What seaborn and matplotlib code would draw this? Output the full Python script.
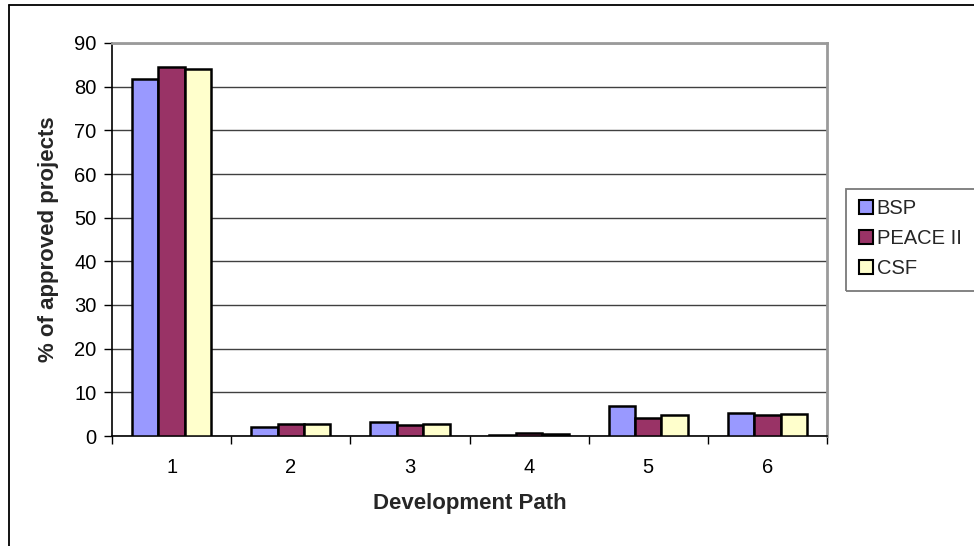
import matplotlib
matplotlib.use("Agg")
import matplotlib.pyplot as plt
from matplotlib.patches import Rectangle, Patch
from matplotlib.lines import Line2D
import seaborn as sns
import pandas as pd
import numpy as np

# Share of approved projects (%) by development path, per programme
paths = ["1", "2", "3", "4", "5", "6"]
bsp = [81.8, 2.0, 3.1, 0.3, 6.9, 5.3]
peace_ii = [84.6, 2.7, 2.5, 0.6, 4.2, 4.8]
csf = [84.1, 2.7, 2.7, 0.4, 4.7, 5.0]
programmes = ["BSP", "PEACE II", "CSF"]
colours = ["#9999FF", "#993366", "#FFFFCC"]
y_ticks = [0, 10, 20, 30, 40, 50, 60, 70, 80, 90]

df = pd.DataFrame({
    "path": paths * 3,
    "value": bsp + peace_ii + csf,
    "programme": [p for p in programmes for _ in paths],
})

sns.set_theme(style="white")
plt.rcParams["font.family"] = ["Liberation Sans", "DejaVu Sans"]

W, H = 974, 546
fig = plt.figure(figsize=(W / 100, H / 100), dpi=100)
fig.patch.set_facecolor("white")

ax = fig.add_axes([112 / W, 1 - 436 / H, (827 - 112) / W, (436 - 43) / H])

sns.barplot(
    data=df, x="path", y="value", hue="programme", hue_order=programmes,
    palette=colours, saturation=1, width=3 / 4.5, gap=0,
    edgecolor="black", linewidth=1.8, ax=ax, legend=False, zorder=3,
)

ax.set_xlim(-0.5, 5.5)
ax.set_ylim(0, 90)
ax.set_yticks(y_ticks)
ax.set_yticklabels([str(t) for t in y_ticks])
ax.yaxis.grid(True, color="#404040", linewidth=1.0, zorder=0)
ax.xaxis.grid(False)
ax.set_axisbelow(True)

# category labels centred, tick marks between categories
ax.set_xticks(range(len(paths)))
ax.set_xticklabels(paths)
ax.set_xticks(np.arange(-0.5, len(paths)), minor=True)
ax.tick_params(axis="x", which="major", length=0, pad=16, labelsize=14.5, colors="black")
ax.tick_params(axis="x", which="minor", bottom=True, length=6, width=1, color="black", direction="out")
ax.tick_params(axis="y", left=True, length=6, width=1, color="black", direction="out",
               pad=5, labelsize=14.5, labelcolor="black")

for side in ["left", "bottom"]:
    ax.spines[side].set_color("black")
    ax.spines[side].set_linewidth(1.2)
for side in ["top", "right"]:
    ax.spines[side].set_visible(True)
    ax.spines[side].set_color("#9a9a9a")
    ax.spines[side].set_linewidth(2)

ax.set_xlabel("Development Path", fontsize=16, fontweight="bold", labelpad=11)
ax.set_ylabel("% of approved projects", fontsize=16, fontweight="bold", labelpad=11)

# legend with square swatches, boxed by a frame running off the right edge
handles = [Patch(facecolor=c, edgecolor="black", linewidth=1.5) for c in colours]
leg = fig.legend(
    handles, programmes, loc="upper left",
    bbox_to_anchor=(851 / W, 1 - 191 / H), frameon=False,
    fontsize=14.5, handlelength=0.68, handleheight=0.68, handletextpad=0.2,
    labelspacing=0.55, borderaxespad=0,
)
fig.patches.append(Rectangle((846 / W, 1 - 291 / H), (990 - 846) / W, (291 - 189) / H,
                             transform=fig.transFigure, facecolor="none",
                             edgecolor="#7a7a7a", linewidth=1.3))

# outer chart frame
fig.add_artist(Line2D([9 / W, 9 / W], [0, 1 - 5 / H], transform=fig.transFigure,
                      color="black", linewidth=1.3))
fig.add_artist(Line2D([9 / W, 1], [1 - 5 / H, 1 - 5 / H], transform=fig.transFigure,
                      color="black", linewidth=1.3))

fig.savefig("out.png", dpi=100)
